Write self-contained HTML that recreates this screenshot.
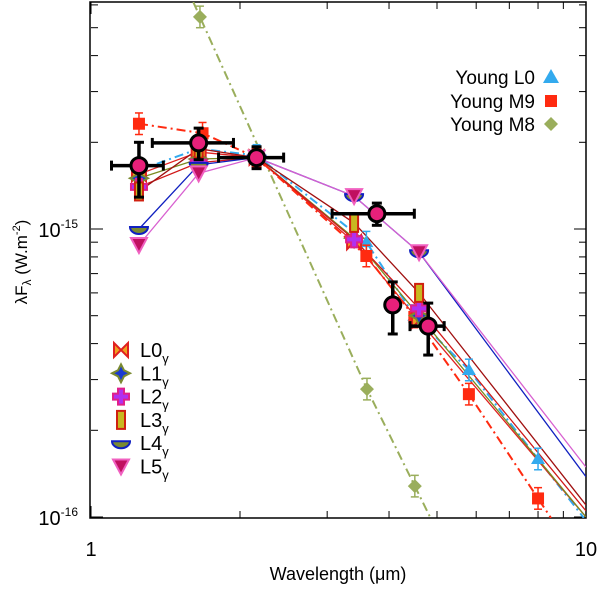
<!DOCTYPE html>
<html><head><meta charset="utf-8"><style>
body{margin:0;background:#fff;overflow:hidden;}
svg{display:block;font-family:"Liberation Sans",Arial,sans-serif;}
</style></head><body>
<svg id="chart" width="600" height="590" viewBox="0 0 600 590">
<defs><clipPath id="clip"><rect x="90" y="2" width="496" height="516"/></clipPath></defs>
<g id="grid"></g>
<g id="series" clip-path="url(#clip)"></g>
<g id="legend"></g>
</svg>
<script>
// data (flux in units of 1e-15 W m^-2)
const obsLam=[1.25,1.65,2.16,3.78,4.07,4.8];
const obsFlux=[1.66,1.99,1.77,1.13,0.545,0.46];
const obsLamLo=[1.10,1.33,1.81,3.07,4.07,4.41];
const obsLamHi=[1.40,1.94,2.45,4.5,4.07,5.17];
const obsFluxLo=[1.29,1.74,1.62,1.03,0.432,0.365];
const obsFluxHi=[2.0,2.24,1.93,1.23,0.655,0.553];
const m8Lam=[1.66,3.61,4.51];
const m8Flux=[5.45,0.278,0.128];
const m9Lam=[1.25,1.68,2.16,3.6,4.5,5.8,8.0];
const m9Flux=[2.32,2.15,1.77,0.806,0.495,0.267,0.116];
const l0yLam=[1.25,1.65,2.16,3.6,4.5,5.8,8.0];
const l0yFlux=[1.6,1.9,1.8,0.9,0.5,0.324,0.159];
const L0Flux=[1.55,1.85,1.77,0.9,0.48,0.1];
const L1Flux=[1.5,1.75,1.77,0.93,0.5,0.1];
const L2Flux=[1.4,1.7,1.77,0.92,0.53,0.105];
const L3Flux=[1.35,1.9,1.77,1.05,0.6,0.11];
const L4Flux=[1.0,1.67,1.77,1.3,0.83,0.138];
const L5Flux=[0.88,1.56,1.77,1.3,0.83,0.149];
const Llam=[1.25,1.65,2.16,3.4,4.6,10];
const yTickVals=[0.1,1];
const xTickLabels=["1","10"];

const NS="http://www.w3.org/2000/svg";
const X0=91,X1=586,YT=2,YB=518;
const xs=l=>X0+(Math.log10(l))*495;
const ys=f=>229-Math.log10(f)*288;
const FTOP=Math.pow(10,(229-YT)/288),FBOT=Math.pow(10,(229-YB)/288),LMAX=Math.pow(10,(X1-X0)/495);
function el(tag,attrs,parent){const e=document.createElementNS(NS,tag);for(const k in attrs)e.setAttribute(k,attrs[k]);(parent||document.getElementById('series')).appendChild(e);return e;}
const grid=document.getElementById('grid'),ser=document.getElementById('series'),leg=document.getElementById('legend');

const fr=el('rect',{x:X0-1,y:YT,width:X1-X0+1,height:YB-YT,fill:'none',stroke:'#000','stroke-width':1.5},grid);

for(let d=1;d<=10;d++){const x=xs(d);const L=(d==1||d==10)?12:7;
 el('line',{x1:x,x2:x,y1:YB,y2:YB-L,stroke:'#000','stroke-width':1},grid);
 el('line',{x1:x,x2:x,y1:YT,y2:YT+L,stroke:'#000','stroke-width':1},grid);}
xTickLabels.forEach((t,i)=>{const tx=el('text',{x:xs(i?10:1),y:556,'font-size':20,'text-anchor':'middle'},grid);tx.textContent=t;
 
 });
[0.1,1].forEach(b=>{for(let m=1;m<10;m++){const v=b*m;const y=ys(v);if(y<YT||y>YB+1)continue;const L=m==1?12:7;
 el('line',{x1:X0,x2:X0+L,y1:y,y2:y,stroke:'#000'},grid);el('line',{x1:X1,x2:X1-L,y1:y,y2:y,stroke:'#000'},grid);}});
yTickVals.forEach(v=>{const t=el('text',{x:78,y:ys(v)+8,'font-size':20,'text-anchor':'end'},grid);
 t.innerHTML='10<tspan dy="-9" font-size="12">'+(v<1?'-16':'-15')+'</tspan>';
 
 });
const xt=el('text',{x:338,y:580,'font-size':18,'text-anchor':'middle'},grid);xt.textContent='Wavelength (μm)';


const yt=el('text',{x:0,y:0,'font-size':17,'text-anchor':'middle',transform:'translate(27,262) rotate(-90)'},grid);
yt.innerHTML='λF<tspan dy="4" font-size="12">λ</tspan><tspan dy="-4"> (W.m</tspan><tspan dy="-7" font-size="11">-2</tspan><tspan dy="7">)</tspan>';



function pts(lam,flux){return lam.map((l,i)=>xs(l)+','+ys(flux[i])).join(' ');}
function extend(lam,flux,left){
 const n=lam.length;
 const s=(Math.log10(flux[n-1])-Math.log10(flux[n-2]))/(Math.log10(lam[n-1])-Math.log10(lam[n-2]));
 // extend right until bottom edge or right edge
 let lr=lam[n-1]*Math.pow(FBOT/flux[n-1],1/s);if(lr>LMAX)lr=LMAX;
 const fr=flux[n-1]*Math.pow(lr/lam[n-1],s);
 let out=pts(lam,flux)+' '+xs(lr)+','+ys(fr);
 if(left){const s0=(Math.log10(flux[1])-Math.log10(flux[0]))/(Math.log10(lam[1])-Math.log10(lam[0]));
  const ll=lam[0]*Math.pow(FTOP/flux[0],1/s0);out=xs(ll)+','+ys(FTOP)+' '+out;}
 return out;}
function errY(l,f,c,w){const x=xs(l);el('line',{x1:x,x2:x,y1:ys(f*1.09),y2:ys(f/1.09),stroke:c,'stroke-width':w||1.5});
 el('line',{x1:x-4,x2:x+4,y1:ys(f*1.09),y2:ys(f*1.09),stroke:c,'stroke-width':1.5});el('line',{x1:x-4,x2:x+4,y1:ys(f/1.09),y2:ys(f/1.09),stroke:c,'stroke-width':1.5});}

let p=el('polyline',{points:extend(m8Lam,m8Flux,true),fill:'none',stroke:'#9aae5c','stroke-width':2,'stroke-dasharray':'9,4,2,4'});

m8Lam.forEach((l,i)=>{errY(l,m8Flux[i],'#9aae5c');const x=xs(l),y=ys(m8Flux[i]);const d=el('polygon',{points:`${x},${y-7} ${x+7},${y} ${x},${y+7} ${x-7},${y}`,fill:'#9aae5c'});
 });
p=el('polyline',{points:extend(l0yLam,l0yFlux,false),fill:'none',stroke:'#33aaee','stroke-width':2,'stroke-dasharray':'9,4,2,4'});

const Lser=[[L0Flux,'#e02020','l0'],[L1Flux,'#7a8a20','l1'],[L2Flux,'#d01818','l2'],[L3Flux,'#a01010','l3'],[L4Flux,'#1020c0','l4'],[L5Flux,'#d860d0','l5']];
Lser.forEach(s=>{const q=el('polyline',{points:pts(Llam,s[0]),fill:'none',stroke:s[1],'stroke-width':1.3});
 });
p=el('polyline',{points:extend(m9Lam,m9Flux,false),fill:'none',stroke:'#ff2a10','stroke-width':2,'stroke-dasharray':'9,4,2,4'});

l0yLam.forEach((l,i)=>{errY(l,l0yFlux[i],'#33aaee');const x=xs(l),y=ys(l0yFlux[i]);const t=el('polygon',{points:`${x},${y-7} ${x+7},${y+5} ${x-7},${y+5}`,fill:'#33aaee'});
 });
m9Lam.forEach((l,i)=>{errY(l,m9Flux[i],'#ff2a10');const x=xs(l),y=ys(m9Flux[i]);const r=el('rect',{x:x-6,y:y-6,width:12,height:12,fill:'#ff2a10'});
 });
function marker(kind,x,y,g){
 if(kind=='l0')return el('polygon',{points:`${x-7},${y-7} ${x},${y} ${x+7},${y-7} ${x+7},${y+7} ${x},${y} ${x-7},${y+7}`,fill:'#f0a020',stroke:'#e02020','stroke-width':2},g);
 if(kind=='l1')return el('polygon',{points:`${x},${y-9} ${x+3},${y-3} ${x+9},${y} ${x+3},${y+3} ${x},${y+9} ${x-3},${y+3} ${x-9},${y} ${x-3},${y-3}`,fill:'#1a3ad0',stroke:'#7a8a30','stroke-width':2},g);
 if(kind=='l2')return el('polygon',{points:`${x-3},${y-8} ${x+3},${y-8} ${x+3},${y-3} ${x+8},${y-3} ${x+8},${y+3} ${x+3},${y+3} ${x+3},${y+8} ${x-3},${y+8} ${x-3},${y+3} ${x-8},${y+3} ${x-8},${y-3} ${x-3},${y-3}`,fill:'#b030f0',stroke:'#e0208a','stroke-width':2},g);
 if(kind=='l3')return el('rect',{x:x-4,y:y-9,width:8,height:18,fill:'#c8b820',stroke:'#d02010','stroke-width':2},g);
 if(kind=='l4')return el('path',{d:`M${x-9},${y-2} L${x+9},${y-2} A9,7 0 0 1 ${x-9},${y-2} Z`,fill:'#7a8a30',stroke:'#1020c0','stroke-width':2},g);
 return el('polygon',{points:`${x-8},${y-7} ${x+8},${y-7} ${x},${y+8}`,fill:'#c01060',stroke:'#f060c0','stroke-width':2},g);}
Lser.forEach(s=>{Llam.forEach((l,i)=>{if(l>=10)return;const m=marker(s[2],xs(l),ys(s[0][i]));
 });});
obsLam.forEach((l,i)=>{const x=xs(l),y=ys(obsFlux[i]);
 if(obsLamHi[i]>obsLamLo[i]){
 el('line',{x1:xs(obsLamLo[i]),x2:xs(obsLamHi[i]),y1:y,y2:y,stroke:'#000','stroke-width':3.5});
 el('line',{x1:xs(obsLamLo[i]),x2:xs(obsLamLo[i]),y1:y-5,y2:y+5,stroke:'#000','stroke-width':3});
 el('line',{x1:xs(obsLamHi[i]),x2:xs(obsLamHi[i]),y1:y-5,y2:y+5,stroke:'#000','stroke-width':3});}
 el('line',{x1:x,x2:x,y1:ys(obsFluxHi[i]),y2:ys(obsFluxLo[i]),stroke:'#000','stroke-width':3.5});
 el('line',{x1:x-5,x2:x+5,y1:ys(obsFluxHi[i]),y2:ys(obsFluxHi[i]),stroke:'#000','stroke-width':3});
 el('line',{x1:x-5,x2:x+5,y1:ys(obsFluxLo[i]),y2:ys(obsFluxLo[i]),stroke:'#000','stroke-width':3});
 const c=el('circle',{cx:x,cy:y,r:8,fill:'#e8207a',stroke:'#000','stroke-width':3});
 });
const lk=['l0','l1','l2','l3','l4','l5'];
lk.forEach((k,i)=>{const y=350+i*23.3;const m=marker(k,121,y,leg);
 
 const t=el('text',{x:140,y:y+7,'font-size':20},leg);t.innerHTML='L'+i+'<tspan dy="6" font-size="13">γ</tspan>';
 });
const yl=[['Young L0','l0y',77],['Young M9','m9',101],['Young M8','m8',124]];
yl.forEach(e=>{const t=el('text',{x:535,y:e[2]+7,'font-size':19,'text-anchor':'end'},leg);t.textContent=e[0];
 
 const x=551,y=e[2];let m;
 if(e[1]=='l0y')m=el('polygon',{points:`${x},${y-8} ${x+8},${y+6} ${x-8},${y+6}`,fill:'#33aaee'},leg);
 else if(e[1]=='m9')m=el('rect',{x:x-6,y:y-6,width:12,height:12,fill:'#ff2a10'},leg);
 else m=el('polygon',{points:`${x},${y-7} ${x+7},${y} ${x},${y+7} ${x-7},${y}`,fill:'#9aae5c'},leg);
 });
</script>
</body></html>
